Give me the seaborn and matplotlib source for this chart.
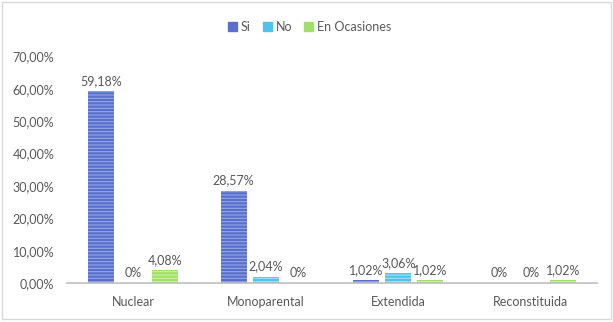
import pandas as pd
import numpy as np
import matplotlib
matplotlib.use("Agg")
import matplotlib.pyplot as plt
import matplotlib.patches as mpatches
import seaborn as sns

# datos
tipos = ['Nuclear', 'Monoparental', 'Extendida', 'Reconstituida']
series = ['Si', 'No', 'En Ocasiones']
si = [59.18, 28.57, 1.02, 0.0]
no = [0.0, 2.04, 3.06, 0.0]
ocasiones = [4.08, 0.0, 1.02, 1.02]
y_ticks = [0, 10, 20, 30, 40, 50, 60, 70]

df = pd.DataFrame({
    'familia': tipos * 3,
    'serie': ['Si'] * 4 + ['No'] * 4 + ['En Ocasiones'] * 4,
    'valor': si + no + ocasiones,
})

colores = {'Si': '#5a6fcc', 'No': '#4fc3ec', 'En Ocasiones': '#a0e068'}
rayas = {'Si': '#93a5e8', 'No': '#a3e0f6', 'En Ocasiones': '#cdf1a6'}

sns.set_style('white')
plt.rcParams['font.family'] = ['Lato', 'DejaVu Sans']
plt.rcParams['hatch.linewidth'] = 0.8

fig = plt.figure(figsize=(6.13, 3.22), dpi=100)
ax = fig.add_axes([0.109, 0.12, 0.865, 0.705])

sns.barplot(data=df, x='familia', y='valor', hue='serie', order=tipos,
            hue_order=series, palette=colores, width=0.725, gap=0.19,
            legend=False, ax=ax, saturation=1)

for cont, s in zip(ax.containers, series):
    for bar in cont:
        bar.set_hatch('-----')
        bar.set_edgecolor(rayas[s])
        bar.set_linewidth(0)
    etiquetas = []
    for bar in cont:
        v = bar.get_height()
        etiquetas.append('0%' if v == 0 else f'{v:.2f}%'.replace('.', ','))
    ax.bar_label(cont, labels=etiquetas, padding=3, fontsize=9, color='#595959')

ax.set_ylim(0, 70)
ax.set_xlim(-0.5, 3.5)
ax.set_yticks(y_ticks)
ax.set_yticklabels([f'{t:.2f}%'.replace('.', ',') for t in y_ticks])
ax.tick_params(axis='both', length=0, labelsize=9, colors='#595959')
ax.tick_params(axis='y', pad=9)
ax.tick_params(axis='x', pad=9)
ax.set_xlabel('')
ax.set_ylabel('')
for lado in ['left', 'right', 'top']:
    ax.spines[lado].set_visible(False)
ax.spines['bottom'].set_color('#bfbfbf')
ax.spines['bottom'].set_linewidth(1.2)

parches = [mpatches.Patch(color=colores[s], label=s) for s in series]
fig.legend(handles=parches, loc='center', bbox_to_anchor=(0.505, 0.916), ncol=3,
           frameon=False, fontsize=9, handlelength=0.7, handleheight=0.7,
           handletextpad=0.3, columnspacing=1.0, labelcolor='#595959')

fig.add_artist(mpatches.Rectangle((0.004, 0.01), 0.992, 0.985, transform=fig.transFigure,
                                  fill=False, edgecolor='#d9d9d9', linewidth=1))

fig.savefig('out.png', dpi=100)
